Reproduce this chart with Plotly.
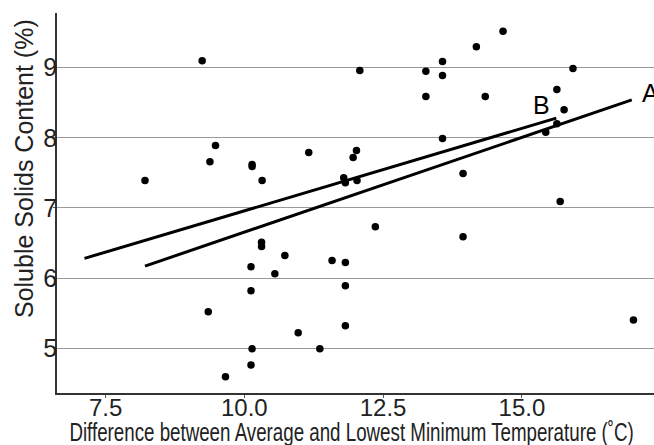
import plotly.graph_objects as go

# Data
temp_diff = [8.21, 9.24, 9.38, 9.48, 10.14, 10.14, 10.32, 11.16, 12.08, 13.27,
             13.57, 13.57, 14.18, 14.66, 13.27, 14.34, 15.92, 15.63, 15.76, 15.63,
             15.43, 13.57, 12.02, 11.96, 11.79, 11.82, 12.03, 13.94, 15.69, 12.36,
             10.31, 10.31, 10.73, 10.12, 10.55, 10.12, 9.35, 10.97, 10.14, 11.36,
             10.12, 9.66, 13.94, 11.58, 11.82, 11.82, 11.82, 17.01]
soluble_solids = [7.39, 9.10, 7.66, 7.89, 7.62, 7.59, 7.39, 7.79, 8.96, 8.95,
                  9.09, 8.89, 9.30, 9.52, 8.59, 8.59, 8.99, 8.69, 8.40, 8.20,
                  8.08, 7.99, 7.82, 7.72, 7.43, 7.36, 7.39, 7.49, 7.09, 6.73,
                  6.51, 6.45, 6.32, 6.16, 6.06, 5.82, 5.52, 5.22, 4.99, 4.99,
                  4.76, 4.59, 6.59, 6.25, 6.22, 5.89, 5.32, 5.40]

line_a_x = [8.21, 16.98]
line_a_y = [6.17, 8.54]
line_b_x = [7.12, 15.62]
line_b_y = [6.28, 8.28]

x_ticks = [7.5, 10.0, 12.5, 15.0]
x_tick_labels = ["7.5", "10.0", "12.5", "15.0"]
y_ticks = [5, 6, 7, 8, 9]

x_title = "Difference between Average and Lowest Minimum Temperature (˚C)"
y_title = "Soluble Solids Content (%)"

FONT = "Liberation Sans, Arial, sans-serif"
TXT = "#222"

fig = go.Figure()
fig.add_trace(go.Scatter(x=temp_diff, y=soluble_solids, mode="markers",
                         marker=dict(color="black", size=7.5), showlegend=False))
fig.add_trace(go.Scatter(x=line_a_x, y=line_a_y, mode="lines",
                         line=dict(color="black", width=3), showlegend=False))
fig.add_trace(go.Scatter(x=line_b_x, y=line_b_y, mode="lines",
                         line=dict(color="black", width=3), showlegend=False))

fig.add_annotation(x=17.12, y=8.64, text="A", showarrow=False, xanchor="left",
                   font=dict(family=FONT, size=25, color="black"))
fig.add_annotation(x=15.36, y=8.47, text="B", showarrow=False,
                   font=dict(family=FONT, size=25, color="black"))

# axis titles as paper annotations
fig.add_annotation(xref="paper", yref="paper", x=0.4933, y=-0.103,
                   xanchor="center", yanchor="middle", showarrow=False,
                   text=x_title,
                   font=dict(family=FONT, size=25, color=TXT))
fig.add_annotation(xref="paper", yref="paper", x=-0.0553, y=0.592,
                   xanchor="center", yanchor="middle", showarrow=False,
                   textangle=-90, text=y_title,
                   font=dict(family=FONT, size=25, color=TXT))

fig.update_layout(
    width=654, height=445,
    margin=dict(l=57, r=0, t=13, b=52, autoexpand=False),
    paper_bgcolor="white", plot_bgcolor="white",
    font=dict(family=FONT, size=24, color=TXT),
)
fig.update_xaxes(
    range=[6.625, 17.38], tickvals=x_ticks, ticktext=x_tick_labels,
    showgrid=False, zeroline=False, automargin=False,
    showline=True, linecolor="#333", linewidth=1.5,
    ticks="outside", ticklen=3, tickcolor="#555", ticklabelstandoff=-11,
    tickfont=dict(family=FONT, size=24, color=TXT),
)
fig.update_yaxes(
    range=[4.36, 9.78], tickvals=y_ticks,
    showgrid=True, gridcolor="#999", gridwidth=1.2, zeroline=False,
    automargin=False,
    showline=True, linecolor="#333", linewidth=1.5,
    ticks="outside", ticklen=2, tickcolor="#555", ticklabelstandoff=-9,
    tickfont=dict(family=FONT, size=25, color=TXT),
)

# remove the default page margin; the reference's x-axis title is horizontally condensed
post_script = """
document.body.style.margin = '0';
var gd = document.getElementById('{plot_id}');
gd.querySelectorAll('text.annotation-text').forEach(function(el){
  if (el.textContent.indexOf('Difference') === 0) {
    var s = 0.75;
    var b = el.getBBox();
    var cx = b.x + b.width / 2;
    var t = el.getAttribute('transform') || '';
    el.setAttribute('transform', t + ' translate(' + (cx * (1 - s)) + ',0) scale(' + s + ',1)');
  }
});
"""

fig.write_html("out.html", post_script=post_script,
               config={"displayModeBar": False})
